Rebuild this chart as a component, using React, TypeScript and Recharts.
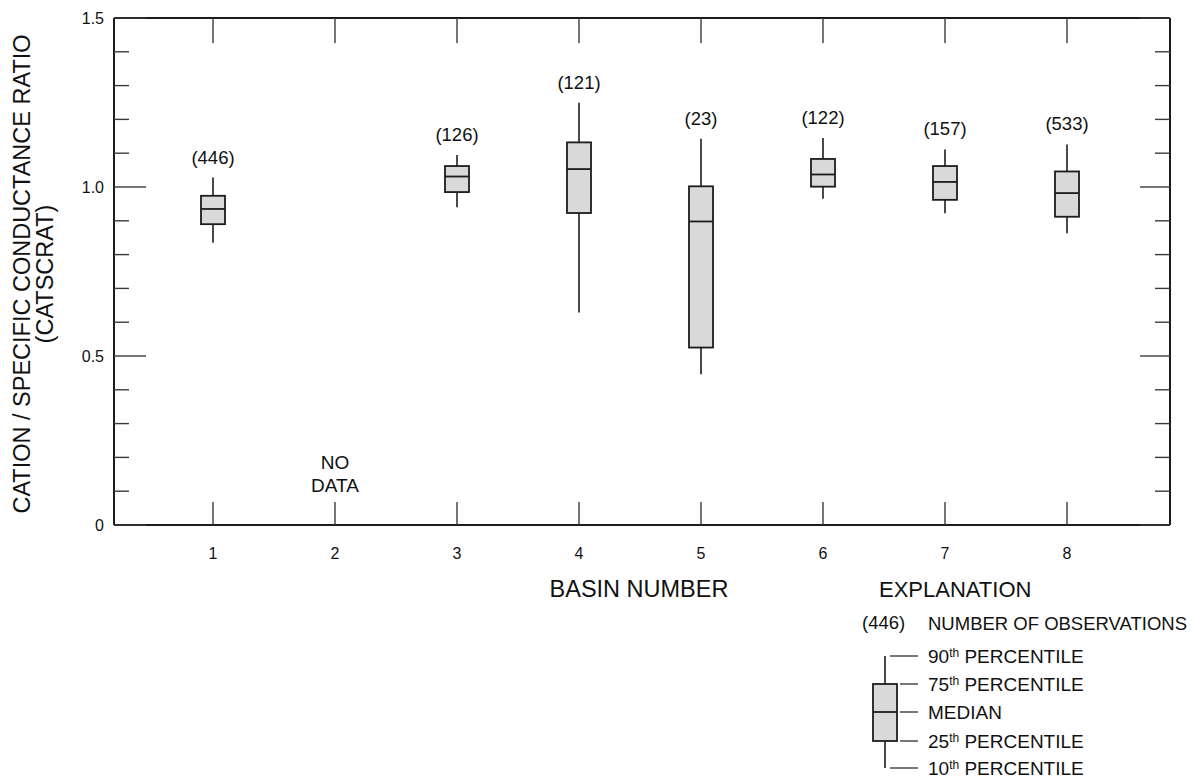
import React from 'react';
import { ComposedChart, Bar, XAxis, YAxis, ReferenceDot } from 'recharts';

const basins = ['1', '2', '3', '4', '5', '6', '7', '8'];
const p10 = [0.835, null, 0.94, 0.629, 0.446, 0.965, 0.922, 0.863];
const p25 = [0.89, null, 0.985, 0.923, 0.525, 1.001, 0.962, 0.912];
const medians = [0.935, null, 1.031, 1.053, 0.898, 1.037, 1.015, 0.982];
const p75 = [0.974, null, 1.062, 1.132, 1.002, 1.083, 1.062, 1.046];
const p90 = [1.028, null, 1.095, 1.249, 1.143, 1.145, 1.111, 1.126];
const counts = [446, null, 126, 121, 23, 122, 157, 533];

const yTicks = [0, 0.1, 0.2, 0.3, 0.4, 0.5, 0.6, 0.7, 0.8, 0.9, 1.0, 1.1, 1.2, 1.3, 1.4, 1.5];
const yMajor: Record<string, string> = { '0': '0', '0.5': '0.5', '1': '1.0', '1.5': '1.5' };

const noDataBasin = '2';
const noDataY = 0.15;

const FONT = '"Liberation Sans", Arial, Helvetica, sans-serif';
const INK = '#1c1c1c';
const TICK_INK = '#3a3a3a';
const BOX_FILL = '#d9d9d9';

const data = basins.map((b, i) => ({
  basin: b,
  range: p10[i] !== null && p90[i] !== null ? [p10[i], p90[i]] : null,
  p10: p10[i],
  p25: p25[i],
  median: medians[i],
  p75: p75[i],
  p90: p90[i],
  count: counts[i],
}));

const BoxShape = (props: any) => {
  const { x, y, width, height, payload } = props;
  if (!payload || payload.range === null || !isFinite(height) || height <= 0) return null;
  const k = height / (payload.p90 - payload.p10);
  const yOf = (v: number) => y + (payload.p90 - v) * k;
  const cx = x + width / 2;
  const y75 = yOf(payload.p75);
  const y25 = yOf(payload.p25);
  const ym = yOf(payload.median);
  const y10 = yOf(payload.p10);
  return (
    <g>
      <line x1={cx} x2={cx} y1={y} y2={y75} stroke={INK} strokeWidth={1.6} />
      <line x1={cx} x2={cx} y1={y25} y2={y10} stroke={INK} strokeWidth={1.6} />
      <rect x={x} y={y75} width={width} height={y25 - y75} fill={BOX_FILL} stroke={INK} strokeWidth={1.8} />
      <line x1={x} x2={x + width} y1={ym} y2={ym} stroke={INK} strokeWidth={1.8} />
      <text x={cx} y={y - 14} textAnchor="middle" fontFamily={FONT} fontSize={18.5} fill="#111">
        ({payload.count})
      </text>
    </g>
  );
};

const LeftTick = (props: any) => {
  const { x, y, payload } = props;
  const key = String(payload.value);
  const major = key in yMajor;
  const len = major ? 32 : 15;
  return (
    <g>
      <line x1={x} x2={x + len} y1={y} y2={y} stroke={TICK_INK} strokeWidth={1.4} />
      {major && (
        <text x={x - 10} y={y} dy="0.35em" textAnchor="end" fontFamily={FONT} fontSize={16} fill="#111">
          {yMajor[key]}
        </text>
      )}
    </g>
  );
};

const RightTick = (props: any) => {
  const { x, y, payload } = props;
  const major = String(payload.value) in yMajor;
  const len = major ? 30 : 15;
  return <line x1={x} x2={x - len} y1={y} y2={y} stroke={TICK_INK} strokeWidth={1.4} />;
};

const BottomTick = (props: any) => {
  const { x, y, payload } = props;
  return (
    <g>
      <line x1={x} x2={x} y1={y} y2={y - 23} stroke={TICK_INK} strokeWidth={1.4} />
      <text x={x} y={y + 28} dy="0.35em" textAnchor="middle" fontFamily={FONT} fontSize={16} fill="#111">
        {payload.value}
      </text>
    </g>
  );
};

const TopTick = (props: any) => {
  const { x, y } = props;
  return <line x1={x} x2={x} y1={y} y2={y + 25} stroke={TICK_INK} strokeWidth={1.4} />;
};

const NoDataLabel = (props: any) => {
  const vb = props.viewBox || {};
  const cx = vb.cx !== undefined ? vb.cx : vb.x + (vb.width || 0) / 2;
  const cy = vb.cy !== undefined ? vb.cy : vb.y + (vb.height || 0) / 2;
  return (
    <text textAnchor="middle" fontFamily={FONT} fontSize={19} fill="#111">
      <tspan x={cx} y={cy - 12} dy="0.35em">NO</tspan>
      <tspan x={cx} y={cy + 11} dy="0.35em">DATA</tspan>
    </text>
  );
};

const Explanation = () => (
  <svg
    width={1195}
    height={779}
    style={{ position: 'absolute', left: 0, top: 0, pointerEvents: 'none' }}
  >
    <g transform="translate(22,274) rotate(-90)">
      <text x={0} y={0} dy="0.35em" textAnchor="middle" fontFamily={FONT} fontSize={23.5} fill="#111">
        CATION / SPECIFIC CONDUCTANCE RATIO
      </text>
    </g>
    <g transform="translate(45,274) rotate(-90)">
      <text x={0} y={0} dy="0.35em" textAnchor="middle" fontFamily={FONT} fontSize={23.5} fill="#111">
        (CATSCRAT)
      </text>
    </g>
    <text x={639} y={589} dy="0.35em" textAnchor="middle" fontFamily={FONT} fontSize={23.5} fill="#111">
      BASIN NUMBER
    </text>
    <text x={879} y={589} dy="0.35em" textAnchor="start" fontFamily={FONT} fontSize={22} fill="#111">
      EXPLANATION
    </text>
    <text x={862} y={623} dy="0.35em" fontFamily={FONT} fontSize={18.5} fill="#111">(446)</text>
    <text x={928} y={624} dy="0.35em" fontFamily={FONT} fontSize={18.5} fill="#111">NUMBER OF OBSERVATIONS</text>

    <line x1={885} x2={885} y1={656} y2={684} stroke={INK} strokeWidth={1.6} />
    <line x1={885} x2={885} y1={741} y2={768} stroke={INK} strokeWidth={1.6} />
    <rect x={873} y={684} width={24} height={57} fill={BOX_FILL} stroke={INK} strokeWidth={1.8} />
    <line x1={873} x2={897} y1={712} y2={712} stroke={INK} strokeWidth={1.8} />

    <line x1={890} x2={918} y1={656} y2={656} stroke={INK} strokeWidth={1.2} />
    <line x1={900} x2={918} y1={684} y2={684} stroke={INK} strokeWidth={1.2} />
    <line x1={900} x2={918} y1={712} y2={712} stroke={INK} strokeWidth={1.2} />
    <line x1={900} x2={918} y1={741} y2={741} stroke={INK} strokeWidth={1.2} />
    <line x1={890} x2={918} y1={768} y2={768} stroke={INK} strokeWidth={1.2} />

    {[
      { y: 656, num: '90', sup: 'th', rest: ' PERCENTILE' },
      { y: 684, num: '75', sup: 'th', rest: ' PERCENTILE' },
      { y: 712, num: 'MEDIAN', sup: '', rest: '' },
      { y: 741, num: '25', sup: 'th', rest: ' PERCENTILE' },
      { y: 768, num: '10', sup: 'th', rest: ' PERCENTILE' },
    ].map((r) => (
      <text key={r.y} x={928} y={r.y} dy="0.35em" fontFamily={FONT} fontSize={19} fill="#111">
        {r.num}
        {r.sup && (
          <tspan fontSize={12} dy="-6">{r.sup}</tspan>
        )}
        {r.sup && <tspan dy="6">{r.rest}</tspan>}
      </text>
    ))}
  </svg>
);

export default function App() {
  return (
    <div style={{ position: 'absolute', left: 0, top: 0, width: 1195, height: 779, background: '#fff' }}>
      <ComposedChart
        width={1195}
        height={779}
        data={data}
        margin={{ top: 0, right: 0, bottom: 214, left: 0 }}
        barCategoryGap={0}
      >
        <XAxis
          dataKey="basin"
          xAxisId="bottom"
          orientation="bottom"
          height={40}
          padding={{ left: 38, right: 42 }}
          interval={0}
          tickLine={false}
          tickSize={0}
          tickMargin={0}
          axisLine={{ stroke: INK, strokeWidth: 2 }}
          tick={<BottomTick />}
        />
        <XAxis
          dataKey="basin"
          xAxisId="top"
          orientation="top"
          height={18}
          padding={{ left: 38, right: 42 }}
          interval={0}
          tickLine={false}
          tickSize={0}
          tickMargin={0}
          axisLine={{ stroke: INK, strokeWidth: 2 }}
          tick={<TopTick />}
        />
        <YAxis
          yAxisId="left"
          orientation="left"
          width={114}
          type="number"
          domain={[0, 1.5]}
          ticks={yTicks}
          interval={0}
          tickLine={false}
          tickSize={0}
          tickMargin={0}
          axisLine={{ stroke: INK, strokeWidth: 2 }}
          tick={<LeftTick />}
          allowDataOverflow
        />
        <YAxis
          yAxisId="right"
          orientation="right"
          width={25}
          type="number"
          domain={[0, 1.5]}
          ticks={yTicks}
          interval={0}
          tickLine={false}
          tickSize={0}
          tickMargin={0}
          axisLine={{ stroke: INK, strokeWidth: 2 }}
          tick={<RightTick />}
          allowDataOverflow
        />
        <Bar
          dataKey="range"
          xAxisId="bottom"
          yAxisId="left"
          barSize={24}
          isAnimationActive={false}
          shape={<BoxShape />}
        />
        <ReferenceDot
          x={noDataBasin}
          y={noDataY}
          xAxisId="bottom"
          yAxisId="left"
          r={0}
          fill="none"
          stroke="none"
          label={<NoDataLabel />}
        />
      </ComposedChart>
      <Explanation />
    </div>
  );
}
